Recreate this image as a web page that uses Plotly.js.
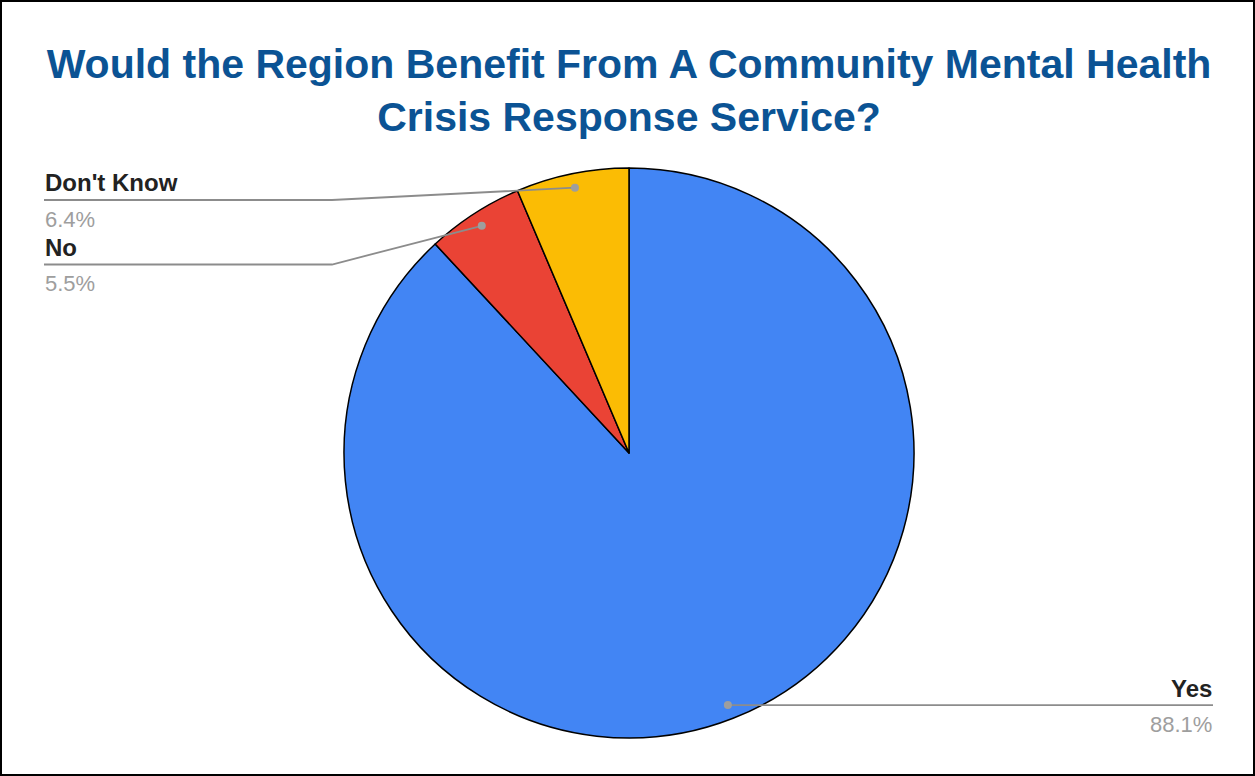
<!DOCTYPE html>
<html><head><meta charset="utf-8">
<script src="https://cdn.plot.ly/plotly-3.0.1.min.js"></script>
<style>
html,body{margin:0;padding:0;background:#fff;}
#wrap{width:1255px;height:776px;box-sizing:border-box;border:2px solid #000;overflow:hidden;}
#chart{width:1251px;height:772px;}
</style></head>
<body><div id="wrap"><div id="chart"></div></div>
<script>
const labels = ['Yes', 'No', "Don't Know"];
const values = [88.1, 5.5, 6.4];
const colors = ['#4285F4', '#EA4335', '#FBBC04'];
const titleText = 'Would the Region Benefit From A Community Mental Health<br>Crisis Response Service?';

const W = 1251, H = 772, OFF = 2; // inner size and border offset
const cx = 629 - OFF, cy = 453 - OFF, R = 285;
const px = x => x / W, py = y => 1 - y / H;

// label layout positions (pixel, inner frame)
const labelPos = {
  'Yes':        {side: 'right', x: 1213 - OFF, lineY: 704 - OFF},
  'No':         {side: 'left',  x: 44 - OFF,   lineY: 264.5 - OFF, elbowX: 332 - OFF},
  "Don't Know": {side: 'left',  x: 44 - OFF,   lineY: 200 - OFF, elbowX: 332 - OFF}
};
const FONT = 'Liberation Sans, Arial, sans-serif';
const nameFont = {family: FONT, size: 24, color: '#222222', weight: 'bold'};
const pctFont = {family: FONT, size: 22, color: '#9e9e9e'};

const total = values.reduce((a, b) => a + b, 0);
const shapes = [], annotations = [];
let cum = 0;
values.forEach((v, i) => {
  const mid = (cum + v / 2) / total * 2 * Math.PI; // clockwise from top
  cum += v;
  const dx = cx + 0.95 * R * Math.sin(mid);
  const dy = cy - 0.95 * R * Math.cos(mid);
  const lp = labelPos[labels[i]];
  const lineCol = '#8c8c8c';
  const lineY = lp.side === 'right' ? dy : lp.lineY;
  if (lp.side === 'right') {
    shapes.push({type: 'line', xref: 'paper', yref: 'paper', x0: px(dx), y0: py(dy), x1: px(lp.x), y1: py(dy), line: {color: lineCol, width: 1.8}});
  } else {
    shapes.push({type: 'path', xref: 'paper', yref: 'paper', path: `M ${px(dx)} ${py(dy)} L ${px(lp.elbowX)} ${py(lp.lineY)} L ${px(lp.x)} ${py(lp.lineY)}`, line: {color: lineCol, width: 1.8}});
  }
  annotations.push({xref: 'paper', yref: 'paper', x: px(lp.x), y: py(lineY - 17), xanchor: lp.side, yanchor: 'middle', showarrow: false, text: labels[i], font: nameFont, borderpad: 0});
  annotations.push({xref: 'paper', yref: 'paper', x: px(lp.x), y: py(lineY + 19), xanchor: lp.side, yanchor: 'middle', showarrow: false, text: values[i].toFixed(1) + '%', font: pctFont, borderpad: 0});
  shapes.push({type: 'circle', xref: 'paper', yref: 'paper', x0: px(dx - 4), x1: px(dx + 4), y0: py(dy - 4), y1: py(dy + 4), fillcolor: '#9e9e9e', line: {width: 0}});
});

const trace = {
  type: 'pie', labels: labels, values: values, sort: false, direction: 'clockwise', rotation: 0,
  marker: {colors: colors, line: {color: '#000000', width: 1.5}},
  textinfo: 'none', hoverinfo: 'label+percent', showlegend: false,
  domain: {x: [px(cx - R), px(cx + R)], y: [py(cy + R), py(cy - R)]}
};

const layout = {
  width: W, height: H, margin: {l: 0, r: 0, t: 0, b: 0},
  paper_bgcolor: '#ffffff', showlegend: false,
  title: {text: titleText, x: px(629 - OFF), xanchor: 'center', y: py(76), yref: 'container', yanchor: 'top',
          font: {family: FONT, size: 41, color: '#0B5394', weight: 'bold'}},
  shapes: shapes, annotations: annotations
};
Plotly.newPlot('chart', [trace], layout, {displayModeBar: false, staticPlot: true});
</script></body></html>
